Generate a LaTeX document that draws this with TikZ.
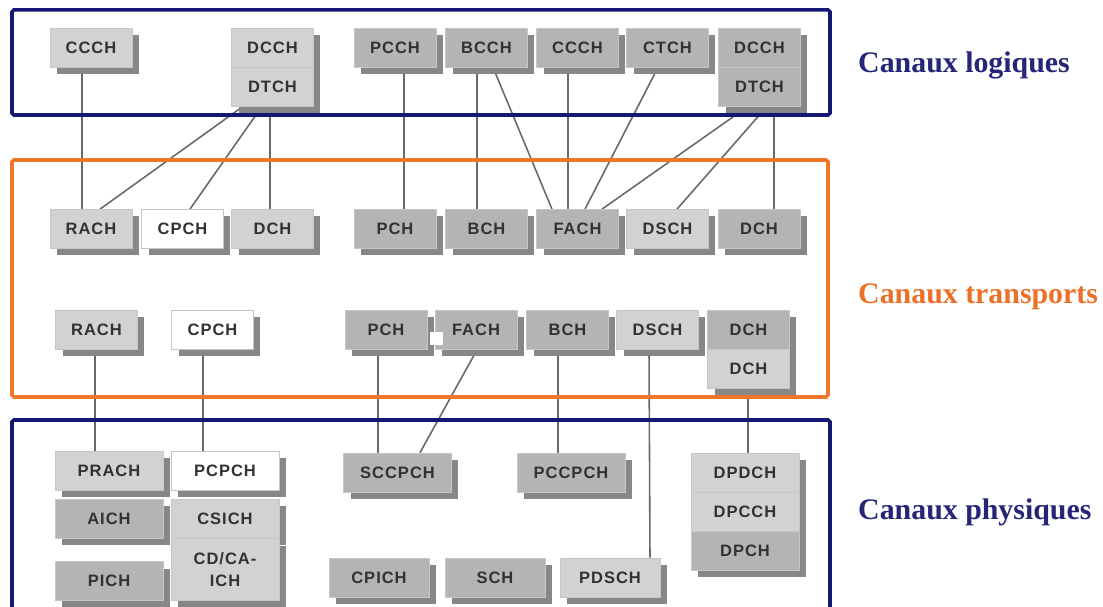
\documentclass[tikz,border=0pt]{standalone}
\usepackage{fontspec}
\newfontfamily\boxfont{Liberation Sans}[LetterSpace=6]
\newfontfamily\labelfont{Liberation Serif}
\usepackage{tikz}
\usetikzlibrary{calc, shadows, backgrounds}

\definecolor{navy}{RGB}{22,22,116}
\definecolor{navytext}{RGB}{38,38,120}
\definecolor{orangeframe}{RGB}{240,118,44}
\definecolor{orangetext}{RGB}{236,112,40}
\definecolor{lgray}{RGB}{210,210,210}
\definecolor{mgray}{RGB}{180,180,180}
\definecolor{shgray}{RGB}{135,135,135}
\definecolor{linkgray}{RGB}{105,105,105}
\definecolor{chtext}{RGB}{50,50,50}

\begin{document}
\begin{tikzpicture}[
  x=0.02cm, y=-0.02cm,
  chan/.style={draw=gray!45, line width=0.4pt, minimum width=1.64cm,
    minimum height=0.78cm, inner sep=0pt, text=chtext,
    font={\fontsize{9.4}{12.5}\boxfont\bfseries},
    drop shadow={shadow xshift=0.14cm, shadow yshift=-0.14cm,
      fill=shgray, opacity=1}},
  chlight/.style={chan, fill=lgray},
  chmid/.style={chan, fill=mgray},
  chwhite/.style={chan, fill=white},
  wide/.style={minimum width=2.16cm},
  semiwide/.style={minimum width=2.0cm},
  link/.style={draw=linkgray, line width=0.9pt},
  frame/.style={line width=2pt, rounded corners=1pt},
  tag/.style={anchor=west, font={\fontsize{17}{20}\labelfont\bfseries}},
]
  \useasboundingbox (0,0) rectangle (1103,607);

  % the three layers
  \draw[frame, navy] (12,10) rectangle (830,115);
  \draw[frame, orangeframe] (12,160) rectangle (828,397);
  \draw[frame, navy] (12,420) rectangle (830,625);

  % logical channels
  \node[chlight] (lCCCHa) at (91,47.5) {CCCH};
  \node[chlight] (lDCCHa) at (272.5,47.5) {DCCH};
  \node[chlight] (lDTCHa) at (272.5,86.5) {DTCH};
  \node[chmid] (lPCCH) at (395,47.5) {PCCH};
  \node[chmid] (lBCCH) at (486.5,47.5) {BCCH};
  \node[chmid] (lCCCHb) at (577.5,47.5) {CCCH};
  \node[chmid] (lCTCH) at (667.5,47.5) {CTCH};
  \node[chmid] (lDCCHb) at (759.5,47.5) {DCCH};
  \node[chmid] (lDTCHb) at (759.5,86.5) {DTCH};

  % transport channels
  \node[chlight] (tRACHa) at (91,229) {RACH};
  \node[chwhite] (tCPCHa) at (182.5,229) {CPCH};
  \node[chlight] (tDCHa) at (272.5,229) {DCH};
  \node[chmid] (tPCHa) at (395,229) {PCH};
  \node[chmid] (tBCHa) at (486.5,229) {BCH};
  \node[chmid] (tFACHa) at (577.5,229) {FACH};
  \node[chlight] (tDSCHa) at (667.5,229) {DSCH};
  \node[chmid] (tDCHb) at (759,229) {DCH};

  \node[chlight] (tRACHb) at (96.5,330) {RACH};
  \node[chwhite] (tCPCHb) at (212.5,330) {CPCH};
  \node[chmid] (tPCHb) at (386,330) {PCH};
  \node[chmid] (tFACHb) at (476,330) {FACH};
  \node[chmid] (tBCHb) at (567.5,330) {BCH};
  \node[chlight] (tDSCHb) at (657.5,330) {DSCH};
  \node[chmid] (tDCHc) at (748.5,330) {DCH};
  \node[chlight] (tDCHd) at (748.5,369) {DCH};
  \fill[white] (430,332) rectangle (443,345);

  % physical channels
  \node[chlight, wide] (pPRACH) at (109,471) {PRACH};
  \node[chwhite, wide] (pPCPCH) at (225,471) {PCPCH};
  \node[chmid, wide] (pAICH) at (109,518.5) {AICH};
  \node[chlight, wide] (pCSICH) at (225,519) {CSICH};
  \node[chlight, wide, minimum height=1.24cm, align=center] (pCDCA)
       at (225,569.5) {CD/CA-\\ICH};
  \node[chmid, wide] (pPICH) at (109,581) {PICH};
  \node[chmid, wide] (pSCCPCH) at (397.5,472.5) {SCCPCH};
  \node[chmid, wide] (pPCCPCH) at (571,472.5) {PCCPCH};
  \node[chlight, wide] (pDPDCH) at (745,472.5) {DPDCH};
  \node[chlight, wide] (pDPCCH) at (745,511.5) {DPCCH};
  \node[chmid, wide] (pDPCH) at (745,550.5) {DPCH};
  \node[chmid, semiwide] (pCPICH) at (379,577.5) {CPICH};
  \node[chmid, semiwide] (pSCH) at (495,577.5) {SCH};
  \node[chlight, semiwide] (pPDSCH) at (610,577.5) {PDSCH};

  % mapping lines
  \begin{scope}[on background layer]
    \draw[link] ($(lCCCHa.south)+(-9,0)$) -- ($(tRACHa.north)+(-9,0)$);
    \draw[link] ($(lDTCHa.south)+(-29.5,0)$) -- ($(tRACHa.north)+(9,0)$);
    \draw[link] ($(lDTCHa.south)+(-10.5,0)$) -- ($(tCPCHa.north)+(7.5,0)$);
    \draw[link] ($(lDTCHa.south)+(-2.5,0)$) -- ($(tDCHa.north)+(-2.5,0)$);
    \draw[link] ($(lPCCH.south)+(9,0)$) -- ($(tPCHa.north)+(9,0)$);
    \draw[link] ($(lBCCH.south)+(-9.5,0)$) -- ($(tBCHa.north)+(-9.5,0)$);
    \draw[link] ($(lBCCH.south)+(6.5,0)$) -- ($(tFACHa.north)+(-25.5,0)$);
    \draw[link] ($(lCCCHb.south)+(-9.5,0)$) -- ($(tFACHa.north)+(-9.5,0)$);
    \draw[link] ($(lCTCH.south)+(-9.5,0)$) -- ($(tFACHa.north)+(7.5,0)$);
    \draw[link] ($(lDTCHb.south)+(-11.5,0)$) -- ($(tFACHa.north)+(24.5,0)$);
    \draw[link] ($(lDTCHb.south)+(7.5,0)$) -- ($(tDSCHa.north)+(9.5,0)$);
    \draw[link] ($(lDTCHb.south)+(14.5,0)$) -- ($(tDCHb.north)+(15,0)$);

    \draw[link] ($(tRACHb.south)+(-1.5,0)$) -- ($(pPRACH.north)+(-14,0)$);
    \draw[link] ($(tCPCHb.south)+(-9.5,0)$) -- ($(pPCPCH.north)+(-22,0)$);
    \draw[link] ($(tPCHb.south)+(-8,0)$) -- ($(pSCCPCH.north)+(-19.5,0)$);
    \draw[link] ($(tFACHb.south)+(1,0)$) -- ($(pSCCPCH.north)+(22.5,0)$);
    \draw[link] ($(tBCHb.south)+(-9.5,0)$) -- ($(pPCCPCH.north)+(-13,0)$);
    \draw[link] ($(tDSCHb.south)+(-8.5,0)$) -- ($(pPDSCH.north)+(40,0)$);
    \draw[link] ($(tDCHd.south)+(-0.5,0)$) -- ($(pDPDCH.north)+(3,0)$);
  \end{scope}

  % layer names
  \node[tag, text=navytext] (gLog) at (852,65) {Canaux logiques};
  \node[tag, text=orangetext] (gTra) at (852,297) {Canaux transports};
  \node[tag, text=navytext] (gPhy) at (852,512) {Canaux physiques};
\end{tikzpicture}
\end{document}
